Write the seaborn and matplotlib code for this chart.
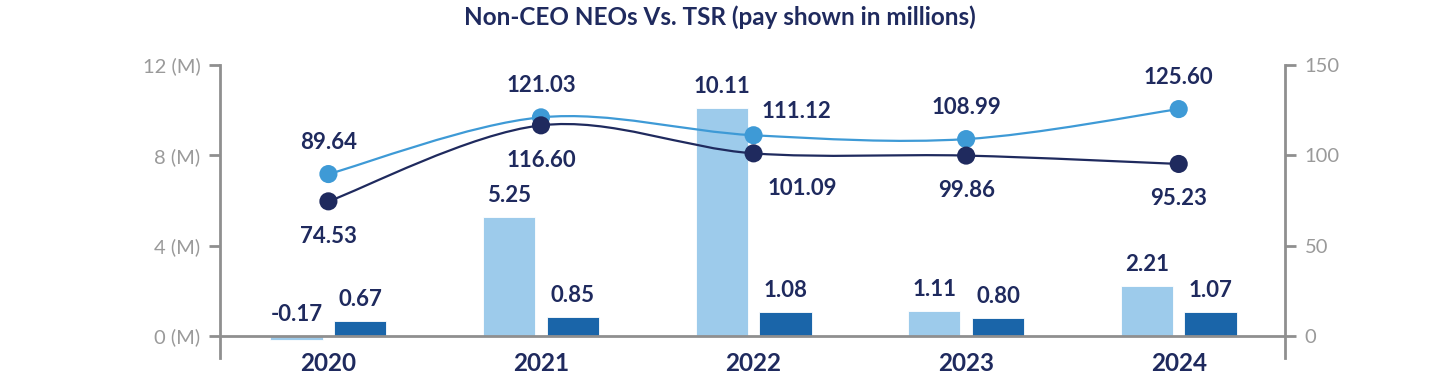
import matplotlib
matplotlib.use("Agg")
import matplotlib.pyplot as plt
import seaborn as sns
import pandas as pd
import numpy as np
from matplotlib.path import Path
from matplotlib.patches import PathPatch

# --- datos ---
years = ["2020", "2021", "2022", "2023", "2024"]
cap_ceo = [-0.17, 5.25, 10.11, 1.11, 2.21]        # barras claras (M)
cap_neo = [0.67, 0.85, 1.08, 0.80, 1.07]          # barras oscuras (M)
tsr_a = [89.64, 121.03, 111.12, 108.99, 125.60]   # línea clara
tsr_b = [74.53, 116.60, 101.09, 99.86, 95.23]     # línea oscura
left_ticks = [0, 4, 8, 12]
left_labels = ["0 (M)", "4 (M)", "8 (M)", "12 (M)"]
right_ticks = [0, 50, 100, 150]

NAVY = "#1f2a5e"
LIGHT_BAR = "#9dcbeb"
DARK_BAR = "#1a65a9"
LIGHT_LINE = "#3e9ad6"
GREY = "#8f8f8f"
TICK_GREY = "#9a9a9a"

sns.set_theme(style="white")
plt.rcParams["font.family"] = ["Lato", "DejaVu Sans"]

df = pd.DataFrame({
    "year": years * 2,
    "value": cap_ceo + cap_neo,
    "serie": ["ceo"] * len(years) + ["neo"] * len(years),
})

fig = plt.figure(figsize=(14.4, 3.75), dpi=100)
ax = fig.add_axes([220 / 1440, 1 - 358 / 375, (1285 - 220) / 1440, (358 - 65) / 375])

sns.barplot(data=df, x="year", y="value", hue="serie", order=years,
            palette={"ceo": LIGHT_BAR, "neo": DARK_BAR}, width=0.6, gap=0.18,
            saturation=1, edgecolor="white", linewidth=0.6, legend=False, ax=ax)

ymin = -0.974
ax.set_ylim(ymin, 12)
ax.set_xlim(-0.51, 4.5)
ax.axhline(0, color=GREY, lw=2, zorder=1)

for cont in ax.containers:
    for p in cont.patches:
        h = p.get_height()
        ax.annotate(f"{h:.2f}", (p.get_x() + p.get_width() / 2, max(h, 0)),
                    xytext=(0, 8), textcoords="offset points", ha="center",
                    va="bottom", fontsize=16, color=NAVY, fontweight="bold")

ax.set_xlabel("")
ax.set_ylabel("")
ax.set_yticks(left_ticks)
ax.set_yticklabels(left_labels)
ax.tick_params(axis="y", length=8, width=2, color=GREY, labelcolor=TICK_GREY,
               labelsize=14.5, pad=6, left=True)
ax.tick_params(axis="x", length=0, pad=-4, labelsize=17.5, labelcolor=NAVY)
for lab in ax.get_xticklabels():
    lab.set_fontweight("bold")
for s in ["top", "bottom", "right"]:
    ax.spines[s].set_visible(False)
ax.spines["left"].set_color(GREY)
ax.spines["left"].set_linewidth(2)

# eje derecho (TSR)
ax2 = ax.twinx()
ax2.set_ylim(ymin * 12.5, 150)
ax2.set_yticks(right_ticks)
ax2.tick_params(axis="y", length=8, width=2, color=GREY, labelcolor=TICK_GREY,
                labelsize=14.5, pad=6, right=True)
for s in ["top", "bottom", "left"]:
    ax2.spines[s].set_visible(False)
ax2.spines["right"].set_color(GREY)
ax2.spines["right"].set_linewidth(2)


def curva_suave(axis, xs, ys, color):
    # trazo suavizado tipo Excel (Bezier Catmull-Rom entre los puntos)
    pts = np.column_stack([xs, ys]).astype(float)
    verts = [tuple(pts[0])]
    codes = [Path.MOVETO]
    n = len(pts)
    for i in range(n - 1):
        p0 = pts[max(i - 1, 0)]
        p1 = pts[i]
        p2 = pts[i + 1]
        p3 = pts[min(i + 2, n - 1)]
        c1 = p1 + (p2 - p0) / 6
        c2 = p2 - (p3 - p1) / 6
        verts += [tuple(c1), tuple(c2), tuple(p2)]
        codes += [Path.CURVE4] * 3
    axis.add_patch(PathPatch(Path(verts, codes), fill=False, edgecolor=color,
                             lw=1.6, zorder=3))


xpos = np.arange(len(years))
curva_suave(ax2, xpos, tsr_a, LIGHT_LINE)
curva_suave(ax2, xpos, tsr_b, NAVY)
pts = pd.DataFrame({"x": np.concatenate([xpos, xpos]),
                    "y": tsr_a + tsr_b,
                    "serie": ["a"] * len(years) + ["b"] * len(years)})
sns.scatterplot(data=pts, x="x", y="y", hue="serie",
                palette={"a": LIGHT_LINE, "b": NAVY}, s=170, linewidth=0,
                legend=False, zorder=4, ax=ax2)
ax2.set_xlabel("")
ax2.set_ylabel("")
ax2.set_xlim(-0.51, 4.5)

for i, (va, vb) in enumerate(zip(tsr_a, tsr_b)):
    if years[i] == "2022":
        off_a, off_b = (31, 17), (35, -25)
    else:
        off_a, off_b = (0, 23), (0, -25)
    ax2.annotate(f"{va:.2f}", (xpos[i], va), xytext=off_a, textcoords="offset points",
                 ha="center", va="center", fontsize=16, color=NAVY, fontweight="bold")
    ax2.annotate(f"{vb:.2f}", (xpos[i], vb), xytext=off_b, textcoords="offset points",
                 ha="center", va="center", fontsize=16, color=NAVY, fontweight="bold")

fig.text(0.5, 1 - 17 / 375, "Non-CEO NEOs Vs. TSR (pay shown in millions)",
         ha="center", va="center", fontsize=17.5, color=NAVY, fontweight="bold")

fig.savefig("out.png", dpi=100)
plt.close()
